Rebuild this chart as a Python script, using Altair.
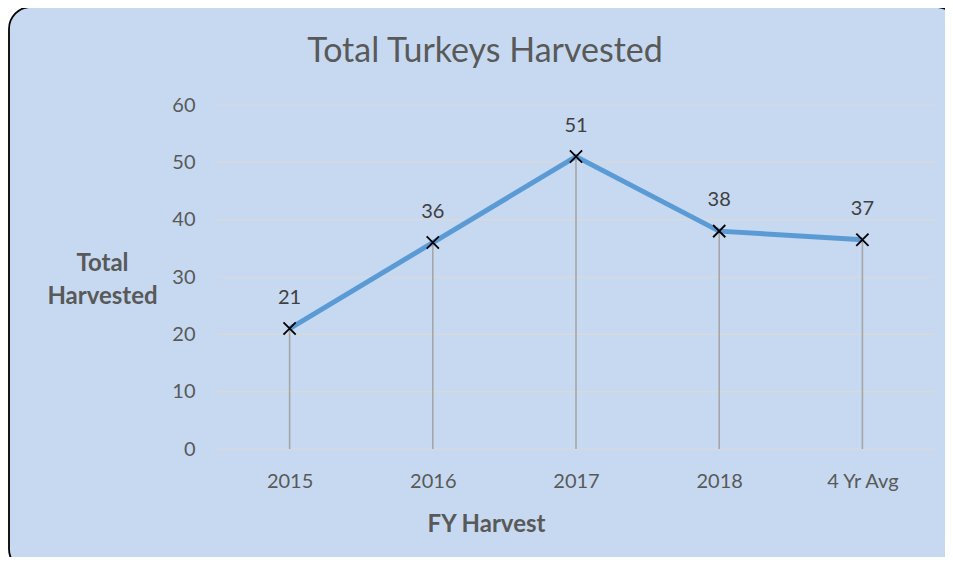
import altair as alt
import pandas as pd

categories = ["2015", "2016", "2017", "2018", "4 Yr Avg"]
values = [21, 36, 51, 38, 36.5]
labels = ["21", "36", "51", "38", "37"]
grid_values = [0, 10, 20, 30, 40, 50, 60]

df = pd.DataFrame({"cat": categories, "val": values, "lab": labels})
gdf = pd.DataFrame({"g": grid_values})

FONT = "Lato"
W, H = 716, 344
GREY = "#595959"

xaxis = alt.Axis(title="FY Harvest", titleFont=FONT, titleFontSize=24, titleFontWeight="bold",
                 titleColor=GREY, titleX=268, titleY=75, titleAnchor="middle",
                 titleAlign="center", titleBaseline="middle",
                 labelFont=FONT, labelFontSize=20, labelColor=GREY, labelAngle=0,
                 labelPadding=22, ticks=False, domain=False, grid=False, zindex=1)
yaxis = alt.Axis(values=grid_values, title=["Total", "Harvested"],
                 titleFont=FONT, titleFontSize=24, titleFontWeight="bold", titleColor=GREY,
                 titleAngle=0, titleX=-116, titleY=158, titleAlign="center",
                 titleBaseline="middle", titleLineHeight=33,
                 labelFont=FONT, labelFontSize=20, labelColor=GREY, labelPadding=23,
                 ticks=False, domain=False, grid=False, zindex=1)

X = alt.X("cat:N", sort=categories, scale=alt.Scale(type="point", padding=0.5), axis=xaxis)
Y = alt.Y("val:Q", scale=alt.Scale(domain=[0, 60]), axis=yaxis)

one = pd.DataFrame({"k": [0]})
bg = alt.Chart(one).mark_rect(fill="#c6d9f0", stroke="#000000", strokeWidth=1.8, cornerRadius=22).encode(
    x=alt.value(-209), x2=alt.value(740), y=alt.value(-98), y2=alt.value(466)
)

gridlines = alt.Chart(gdf).mark_rule(color="#d9d9d9", strokeWidth=1.2).encode(
    y=alt.Y("g:Q", scale=alt.Scale(domain=[0, 60])), x=alt.value(0), x2=alt.value(W))

base = alt.Chart(df)
drops = base.mark_rule(color="#a6a6a6", strokeWidth=1.6).encode(x=X, y=Y, y2=alt.datum(0))
line = base.mark_line(color="#5b9bd5", strokeWidth=5).encode(x=X, y=Y)
pts = base.mark_point(shape="M-1,-1L1,1M-1,1L1,-1", filled=False, color="#000000",
                      strokeWidth=1.8, size=150, opacity=1).encode(x=X, y=Y)
txt = base.mark_text(font=FONT, fontSize=20, color="#404040", dy=-31, baseline="middle").encode(
    x=X, y=Y, text="lab:N")

title = alt.Chart(one).mark_text(text="Total Turkeys Harvested", font=FONT, fontSize=34,
                                  color=GREY, baseline="middle", align="center").encode(
    x=alt.value(267), y=alt.value(-53))

chart = alt.layer(bg, gridlines, drops, line, pts, txt, title).properties(
    width=W, height=H,
    autosize=alt.AutoSizeParams(type="none"),
    padding={"left": 210, "top": 97, "right": 11, "bottom": 108},
).configure(background="#ffffff").configure_view(stroke=None)

chart.save("out.html", embed_options={"renderer": "svg", "actions": False})
